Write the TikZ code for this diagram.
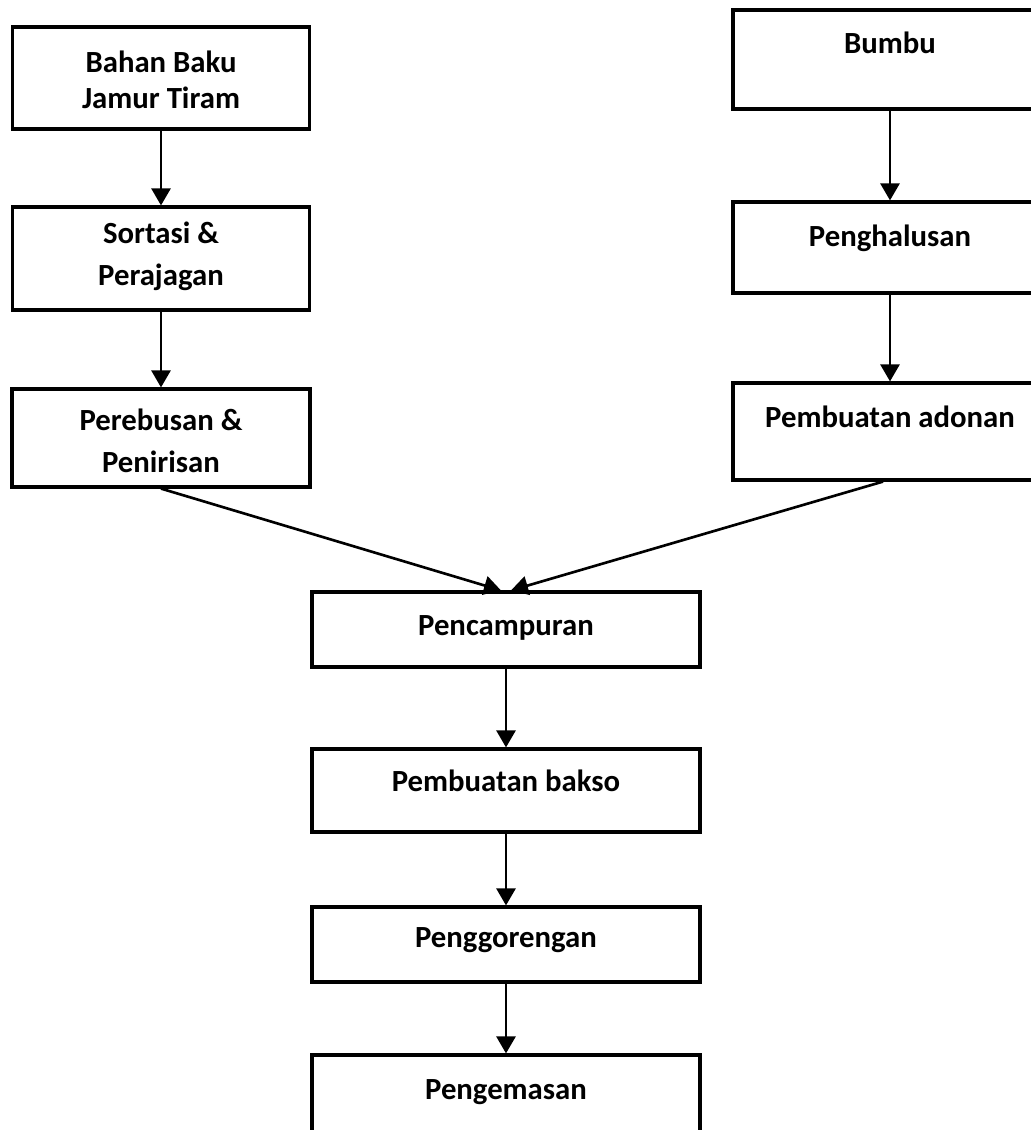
\documentclass[tikz,border=0pt]{standalone}
\usepackage{fontspec}
\setmainfont{Carlito}
\usetikzlibrary{arrows.meta,positioning}
\tikzset{box/.style={draw=black, line width=1.8pt, inner sep=0pt},
         lbl/.style={inner sep=0pt, align=center, font=\bfseries\fontsize{17.5}{24}\selectfont},
         arr/.style={black, line width=1.5pt, -{Triangle[length=0.34cm,width=0.38cm]}}}

\begin{document}
\begin{tikzpicture}
     \clip (0,0) rectangle (20.62,-22.6);
     \node[box, minimum width=5.94cm, minimum height=2.04cm] (bahan)   at ( 3.22, -1.56) {};
     \node[box, minimum width=5.94cm, minimum height=2.06cm] (sortasi) at ( 3.22, -5.17) {};
     \node[box, minimum width=5.96cm, minimum height=1.96cm] (rebus)   at ( 3.22, -8.76) {};
     \node[box, minimum width=6.28cm, minimum height=1.98cm] (bumbu)   at (17.80, -1.19) {};
     \node[box, minimum width=6.28cm, minimum height=1.82cm] (halus)   at (17.80, -4.95) {};
     \node[box, minimum width=6.28cm, minimum height=1.94cm] (adonan)  at (17.80, -8.63) {};
     \node[box, minimum width=7.76cm, minimum height=1.50cm] (campur)  at (10.12,-12.59) {};
     \node[box, minimum width=7.76cm, minimum height=1.66cm] (bakso)   at (10.12,-15.81) {};
     \node[box, minimum width=7.76cm, minimum height=1.50cm] (goreng)  at (10.12,-18.89) {};
     \node[box, minimum width=7.76cm, minimum height=1.80cm] (kemas)   at (10.12,-22.00) {};

     \node[lbl, below=0.50cm of bahan.north, font=\bfseries\fontsize{17.5}{20.5}\selectfont] (tbahan) {Bahan Baku\\Jamur Tiram};
     \node[lbl, below=0.32cm of sortasi.north] (tsortasi) {Sortasi \&\\Perajagan};
     \node[lbl, below=0.42cm of rebus.north]   (trebus)   {Perebusan \&\\Penirisan};
     \node[lbl, below=0.46cm of bumbu.north]   (tbumbu)   {Bumbu};
     \node[lbl, below=0.48cm of halus.north]   (thalus)   {Penghalusan};
     \node[lbl, below=0.48cm of adonan.north]  (tadonan)  {Pembuatan adonan};
     \node[lbl, below=0.50cm of campur.north]  (tcampur)  {Pencampuran};
     \node[lbl, below=0.44cm of bakso.north]   (tbakso)   {Pembuatan bakso};
     \node[lbl, below=0.44cm of goreng.north]  (tgoreng)  {Penggorengan};
     \node[lbl, below=0.52cm of kemas.north]   (tkemas)   {Pengemasan};

     \draw[arr] (bahan.south)   -- (sortasi.north);
     \draw[arr] (sortasi.south) -- (rebus.north);
     \draw[arr] (bumbu.south)   -- (halus.north);
     \draw[arr] (halus.south)   -- (adonan.north);
     \draw[arr] (rebus.south)   -- ([xshift=-0.1cm]campur.north);
     \draw[arr] ([xshift=-0.14cm]adonan.south) -- ([xshift=0.1cm]campur.north);
     \draw[arr] (campur.south)  -- (bakso.north);
     \draw[arr] (bakso.south)   -- (goreng.north);
     \draw[arr] (goreng.south)  -- (kemas.north);
\end{tikzpicture}
\end{document}
